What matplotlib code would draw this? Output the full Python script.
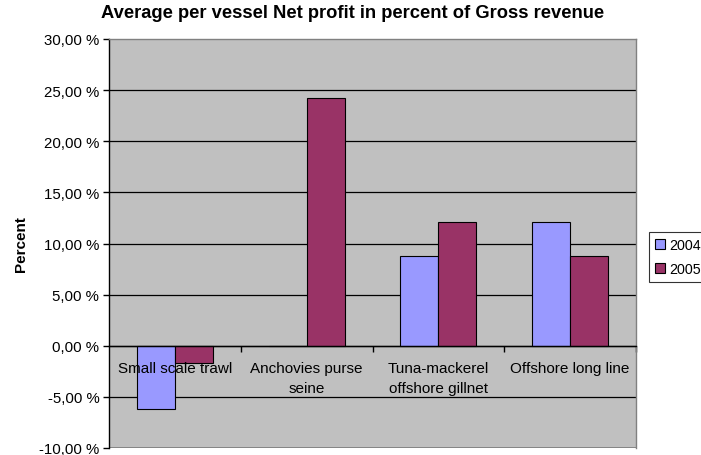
import matplotlib
matplotlib.use("Agg")
import matplotlib.pyplot as plt
from matplotlib.patches import Patch
import numpy as np

plt.rcParams['font.family'] = ['Liberation Sans', 'DejaVu Sans']

categories = ["Small scale trawl", "Anchovies purse\nseine",
              "Tuna-mackerel\noffshore gillnet", "Offshore long line"]
series_names = ["2004", "2005"]
values_2004 = [-6.2, 0.0, 8.8, 12.1]
values_2005 = [-1.7, 24.2, 12.1, 8.8]
y_ticks = [-10, -5, 0, 5, 10, 15, 20, 25, 30]

color_2004 = "#9999FF"
color_2005 = "#993366"
plot_bg = "#C0C0C0"

fig = plt.figure(figsize=(7.01, 4.56), dpi=100)
ax = fig.add_axes([109 / 701, 7 / 456, (636 - 109) / 701, (449 - 40) / 456])
ax.set_facecolor(plot_bg)

x = np.arange(len(categories))
w = 0.288
ax.bar(x - w / 2, values_2004, w, color=color_2004, edgecolor="black",
       linewidth=0.8, zorder=3)
ax.bar(x + w / 2, values_2005, w, color=color_2005, edgecolor="black",
       linewidth=0.8, zorder=3)

ax.set_xlim(-0.5, len(categories) - 0.5)
ax.set_ylim(y_ticks[0], y_ticks[-1])
ax.set_yticks(y_ticks)
ax.set_yticklabels([f"{v:.2f} %".replace(".", ",") for v in y_ticks],
                   fontsize=10.8)

# horizontal gridlines inside the plot area
for v in y_ticks[1:-1]:
    ax.axhline(v, color="black", linewidth=0.9, zorder=1)

# plot area border
for side in ("top", "right"):
    ax.spines[side].set_color("#808080")
    ax.spines[side].set_linewidth(1.0)
ax.axhline(y_ticks[0], color="#808080", linewidth=2.0, zorder=1)
ax.spines["left"].set_color("black")
ax.spines["left"].set_linewidth(1.0)

# category axis runs along zero
ax.spines["bottom"].set_position(("data", 0))
ax.spines["bottom"].set_color("black")
ax.spines["bottom"].set_linewidth(1.0)
ax.spines["bottom"].set_zorder(4)
ax.set_xticks(np.arange(len(categories)) + 0.5)
ax.set_xticklabels([])
ax.tick_params(axis="x", direction="out", length=4, width=1, color="black")
ax.tick_params(axis="y", direction="out", length=4, width=1, color="black",
               pad=3)

for xi, name in zip(x, categories):
    ax.annotate(name, xy=(xi, 0), xytext=(0, -11), textcoords="offset points",
                ha="center", va="top", fontsize=11, linespacing=1.5,
                zorder=5)

ax.set_ylabel("Percent", fontsize=11, fontweight="bold", labelpad=8)
fig.text(353 / 701, 1 - 14 / 456,
         "Average per vessel Net profit in percent of Gross revenue",
         ha="center", va="center", fontsize=13.2, fontweight="bold")

handles = [Patch(facecolor=color_2004, edgecolor="black", linewidth=0.8),
           Patch(facecolor=color_2005, edgecolor="black", linewidth=0.8)]
leg = fig.legend(handles, series_names, loc="upper left",
                 bbox_to_anchor=(649 / 701, 1 - 233 / 456),
                 fontsize=10.3, frameon=True, fancybox=False,
                 handlelength=0.7, handleheight=0.7, handletextpad=0.3,
                 borderpad=0.4, labelspacing=0.75, borderaxespad=0)
leg.get_frame().set_edgecolor("black")
leg.get_frame().set_linewidth(0.8)

fig.savefig("out.png", dpi=100)
